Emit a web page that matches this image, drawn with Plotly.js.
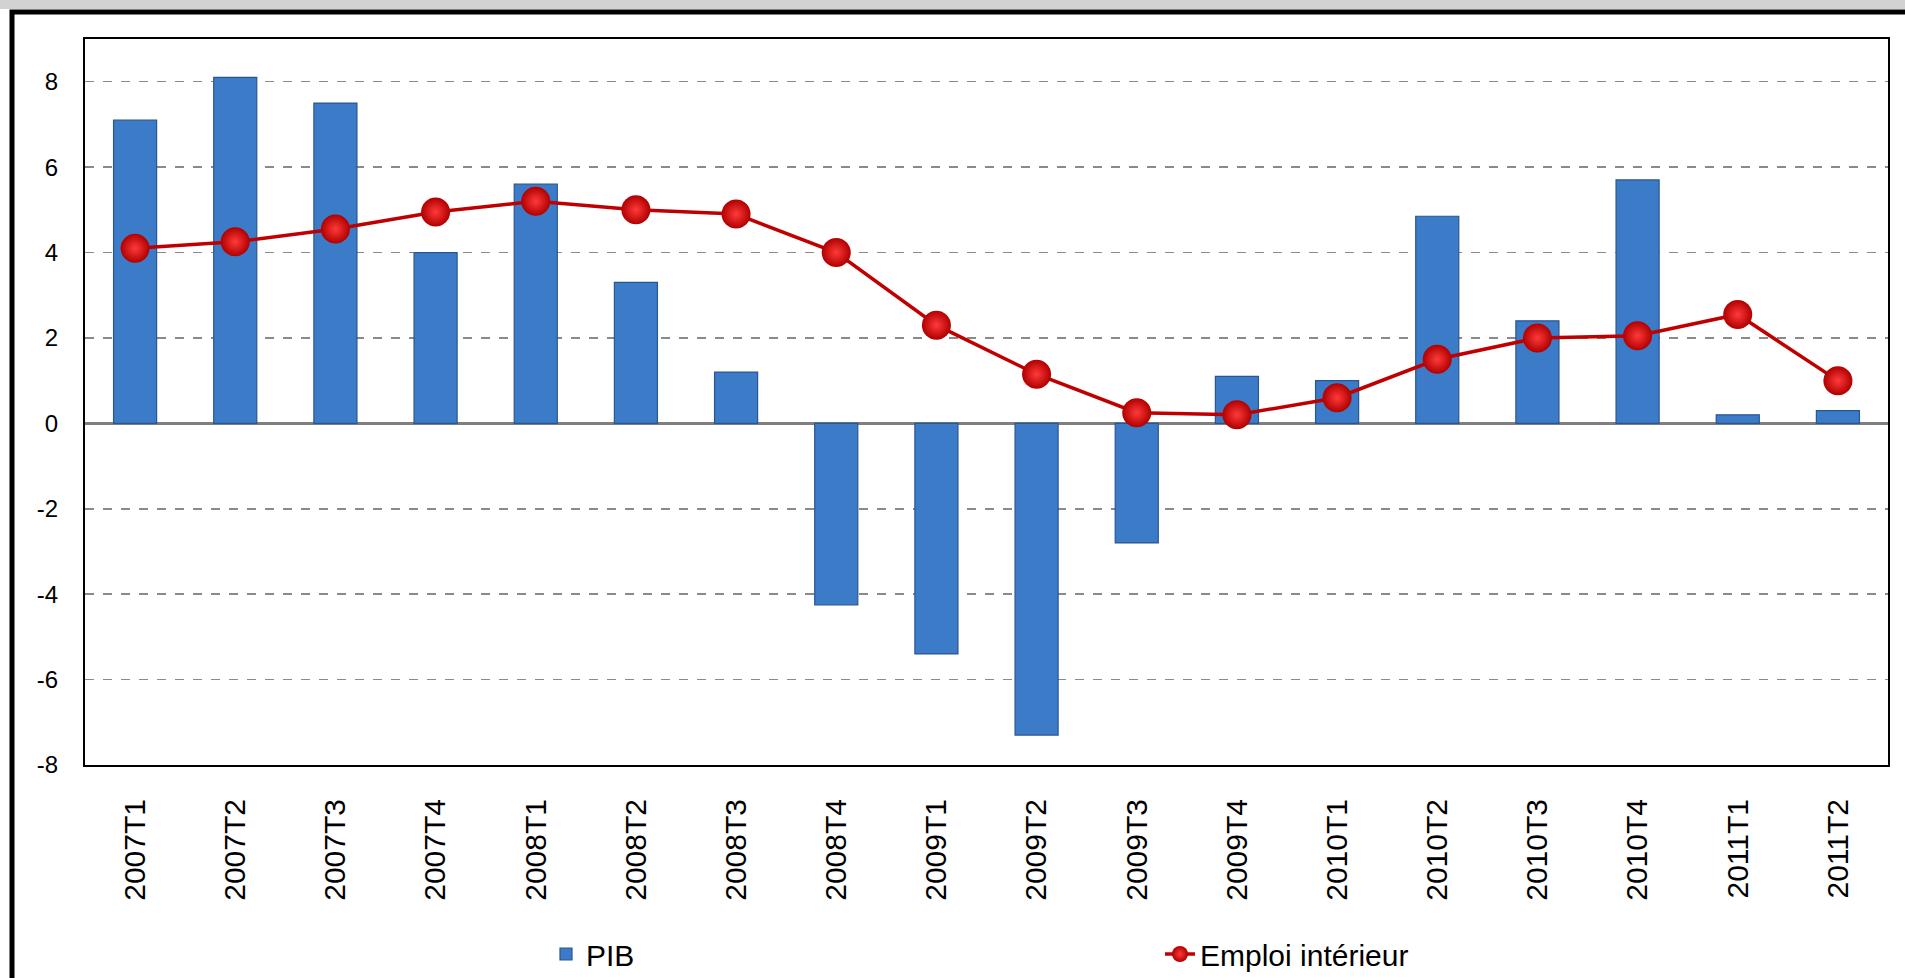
<!DOCTYPE html>
<html>
<head>
<meta charset="utf-8">
<script src="https://cdn.plot.ly/plotly-3.0.1.min.js"></script>
<style>
  html, body { margin: 0; padding: 0; background: #ffffff; }
  #chart { width: 1905px; height: 978px; }
</style>
</head>
<body>
<div id="chart"></div>
<script>
// Categories (quarters)
const categories = ["2007T1","2007T2","2007T3","2007T4","2008T1","2008T2","2008T3","2008T4",
                    "2009T1","2009T2","2009T3","2009T4","2010T1","2010T2","2010T3","2010T4",
                    "2011T1","2011T2"];
// PIB (bars)
const pib = [7.1, 8.1, 7.5, 4.0, 5.6, 3.3, 1.2, -4.25, -5.4, -7.3, -2.8, 1.1, 1.0, 4.85, 2.4, 5.7, 0.2, 0.3];
// Emploi intérieur (line)
const emploi = [4.1, 4.25, 4.55, 4.95, 5.2, 5.0, 4.9, 4.0, 2.3, 1.15, 0.25, 0.2, 0.6, 1.5, 2.0, 2.05, 2.55, 1.0];
// Y axis ticks
const yTicks = [-8, -6, -4, -2, 0, 2, 4, 6, 8];

const FONT = "Liberation Sans, Arial, sans-serif";

const traces = [
  {
    type: "bar",
    name: "PIB",
    x: categories,
    y: pib,
    width: 0.43,
    marker: { color: "#3C7BC8", line: { color: "#2A5690", width: 1.2 } },
    hoverinfo: "x+y"
  },
  {
    type: "scatter",
    mode: "lines+markers",
    name: "Emploi intérieur",
    x: categories,
    y: emploi,
    line: { color: "#C00000", width: 3.5 },
    marker: {
      size: 29,
      color: "#B00000",
      gradient: { type: "radial", color: "#FF3A3A" },
      line: { width: 0 }
    }
  }
];

const L = 85, R = 17, T = 39, B = 213;
const W = 1905, H = 978;
const pw = W - L - R, ph = H - T - B;
const px = v => (v - L) / pw;
const py = v => (H - B - v) / ph;

const layout = {
  width: W, height: H,
  margin: { l: L, r: R, t: T, b: B, autoexpand: false },
  paper_bgcolor: "#ffffff",
  plot_bgcolor: "#ffffff",
  font: { family: FONT, color: "#000000" },
  showlegend: true,
  xaxis: {
    type: "category",
    automargin: false,
    range: [-0.5, categories.length - 0.5],
    tickangle: -90,
    tickfont: { size: 30, family: FONT, color: "#000000" },
    ticks: "",
    ticklabelstandoff: 20,
    showgrid: false,
    showline: true, mirror: true, linecolor: "#000000", linewidth: 2,
    fixedrange: true
  },
  yaxis: {
    automargin: false,
    range: [-8, 9],
    tickvals: yTicks,
    ticktext: yTicks.map(String),
    tickfont: { size: 24, family: FONT, color: "#000000" },
    ticks: "",
    ticklabelstandoff: 20,
    showgrid: true, gridcolor: "#8a8a8a", gridwidth: 1.5, griddash: "dash",
    zeroline: true, zerolinecolor: "#7f7f7f", zerolinewidth: 2.5,
    showline: true, mirror: true, linecolor: "#000000", linewidth: 2,
    fixedrange: true
  },
  legend: {
    orientation: "h",
    x: px(546), xanchor: "left",
    y: py(954), yanchor: "middle",
    entrywidth: 569, entrywidthmode: "pixels",
    font: { size: 30, family: FONT, color: "#000000" },
    bgcolor: "rgba(0,0,0,0)",
    traceorder: "normal"
  },
  shapes: [
    { type: "rect", xref: "paper", yref: "paper",
      x0: px(0), x1: px(W), y0: py(9), y1: py(0),
      fillcolor: "#d2d2d2", line: { width: 0 }, layer: "below" },
    { type: "rect", xref: "paper", yref: "paper",
      x0: px(12), x1: px(W + 20), y0: py(H + 20), y1: py(12),
      line: { color: "#000000", width: 5 }, fillcolor: "rgba(0,0,0,0)", layer: "above" }
  ]
};

Plotly.newPlot("chart", traces, layout, { displayModeBar: false, staticPlot: true });
</script>
</body>
</html>
